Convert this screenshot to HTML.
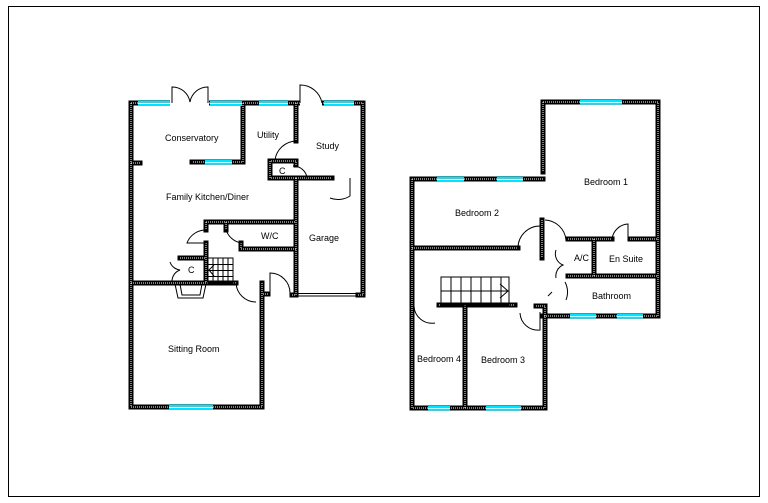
<!DOCTYPE html>
<html><head><meta charset="utf-8"><style>
html,body{margin:0;padding:0;background:#fff;}
svg{display:block;}
text{font-family:"Liberation Sans",sans-serif;font-size:9px;fill:#000;}
.d{fill:none;stroke:#fff;stroke-width:1;stroke-dasharray:1 1;stroke-linecap:butt;}
.t{fill:none;stroke:#000;stroke-width:1;}
.win{fill:#00e5ff;}
#walls{stroke:#000;stroke-width:5;fill:none;stroke-linecap:square;}
</style></head><body>
<svg width="768" height="503" viewBox="0 0 768 503" xmlns="http://www.w3.org/2000/svg">
<rect x="8.5" y="6.5" width="751" height="490" fill="none" stroke="#000"/>
<g id="walls">
<path d="M131,103 V407 H262 V283 M131,103 H363 M363,103 V295 M243,103 V162 H192 M131,163 H140
M296,103 V141 M296,165 V161 H270 V178 H296 M296,178 H332 M296,178 V295 H292 M363,295 H358
M206,222 H296 M206,222 V230 M206,243 V283 M226,222 V230 M241,243 V249 H296
M180,258 H206 M131,283 H236 M262,283 V294 H268"/>
<path d="M412,179 V408 H545 V306 H536 M412,179 H543 M543,102 V172 M543,102 H658 V316 H543
M542,220 V258 M412,248 H518 M568,239 H612 M630,239 H657 M594,239 V276 M568,276 H657
M439,305 H515 M465,305 V408"/>
</g>
<g class="d">
<path d="M131,103 V407 H262 V283 M131,103 H363 M363,103 V295 M243,103 V162 H192 M131,163 H140
M296,103 V141 M296,165 V161 H270 V178 H296 M296,178 H332 M296,178 V295 H292 M363,295 H358
M206,222 H296 M206,222 V230 M206,243 V283 M226,222 V230 M241,243 V249 H296
M180,258 H206 M131,283 H236 M262,283 V294 H268"/>
<path d="M412,179 V408 H545 V306 H536 M412,179 H543 M543,102 V172 M543,102 H658 V316 H543
M542,220 V258 M412,248 H518 M568,239 H612 M630,239 H657 M594,239 V276 M568,276 H657
M439,305 H515 M465,305 V408"/>
</g>
<g fill="#fff">
<rect x="170" y="99" width="39" height="8"/>
<rect x="300" y="99" width="22" height="8"/>
</g>
<g>
<rect class="win" x="138" y="101" width="32" height="5"/>
<rect class="win" x="210" y="101" width="32" height="5"/>
<rect class="win" x="259" y="101" width="29" height="5"/>
<rect class="win" x="324" y="101" width="30" height="5"/>
<rect class="win" x="205" y="160" width="27" height="5"/>
<rect class="win" x="169" y="405" width="44" height="5"/>
<rect class="win" x="437" y="177" width="27" height="5"/>
<rect class="win" x="497" y="177" width="26" height="5"/>
<rect class="win" x="580" y="100" width="42" height="5"/>
<rect class="win" x="570" y="314" width="26" height="5"/>
<rect class="win" x="617" y="314" width="26" height="5"/>
<rect class="win" x="428" y="406" width="22" height="5"/>
<rect class="win" x="486" y="406" width="35" height="5"/>
</g>
<g stroke="#fff" stroke-width="1">
<path d="M138,103.5H170M210,103.5H242M259,103.5H288M324,103.5H354M205,162.5H232M169,407.5H213M437,179.5H464M497,179.5H523M580,102.5H622M570,316.5H596M617,316.5H643M428,408.5H450M486,408.5H521"/>
</g>
<g class="t">
<path d="M172,103V87A18,18 0 0 1 190,102A18,18 0 0 1 208,87V103"/>
<path d="M300,103V85A22,22 0 0 1 322,103"/>
<path d="M296,141A22,22 0 0 0 275,160"/>
<path d="M293,166A14,13 0 0 1 307,178"/>
<path d="M350,178V196A22,22 0 0 1 330,198"/>
<path d="M206,230A20,20 0 0 0 187,243H206"/>
<path d="M226,230A20,20 0 0 0 241,243"/>
<path d="M170,262A12,12 0 0 0 180,270A12,12 0 0 0 172,282"/>
<path d="M236,283A20,20 0 0 0 256,302"/>
<path d="M270,294V273A20,20 0 0 1 290,293"/>
<path d="M298,293.5H358M298,296H358"/>
<path d="M175,284L178,298H203L206,284M180,284L182,295H200L202,284"/>
<path d="M208,258H233V283H208ZM208,264.5H233M208,270.5H233M208,276.5H233M213,258V283M218,258V283M223,258V283M228,258V283M214,265L209,270L214,276"/>
<path d="M441,277H509V305H441ZM441,291H509M451,277V305M461,277V305M471,277V305M481,277V305M491,277V305M501,277V305M500,284L508,291L500,298"/>
<path d="M518,248A22,22 0 0 1 540,226"/>
<path d="M545,220A22,22 0 0 1 566,240"/>
<path d="M612,239A17,17 0 0 1 628,224V239"/>
<path d="M556,250A12,12 0 0 0 563,265A12,12 0 0 0 556,278"/>
<path d="M565,282A22,22 0 0 1 566,300"/>
<path d="M548,296L552,292"/>
<path d="M540,312V330A18,18 0 0 1 520,313"/>
<path d="M414,306A18,18 0 0 0 435,323"/>
</g>
<text x="165" y="141">Conservatory</text>
<text x="257" y="138">Utility</text>
<text x="316" y="149">Study</text>
<text x="279" y="174">C</text>
<text x="166" y="200">Family Kitchen/Diner</text>
<text x="261" y="239">W/C</text>
<text x="309" y="241">Garage</text>
<text x="188" y="273">C</text>
<text x="168" y="352">Sitting Room</text>
<text x="584" y="185">Bedroom 1</text>
<text x="455" y="216">Bedroom 2</text>
<text x="574" y="261">A/C</text>
<text x="609" y="262">En Suite</text>
<text x="592" y="299">Bathroom</text>
<text x="417" y="362">Bedroom 4</text>
<text x="481" y="363">Bedroom 3</text>
</svg>
</body></html>
